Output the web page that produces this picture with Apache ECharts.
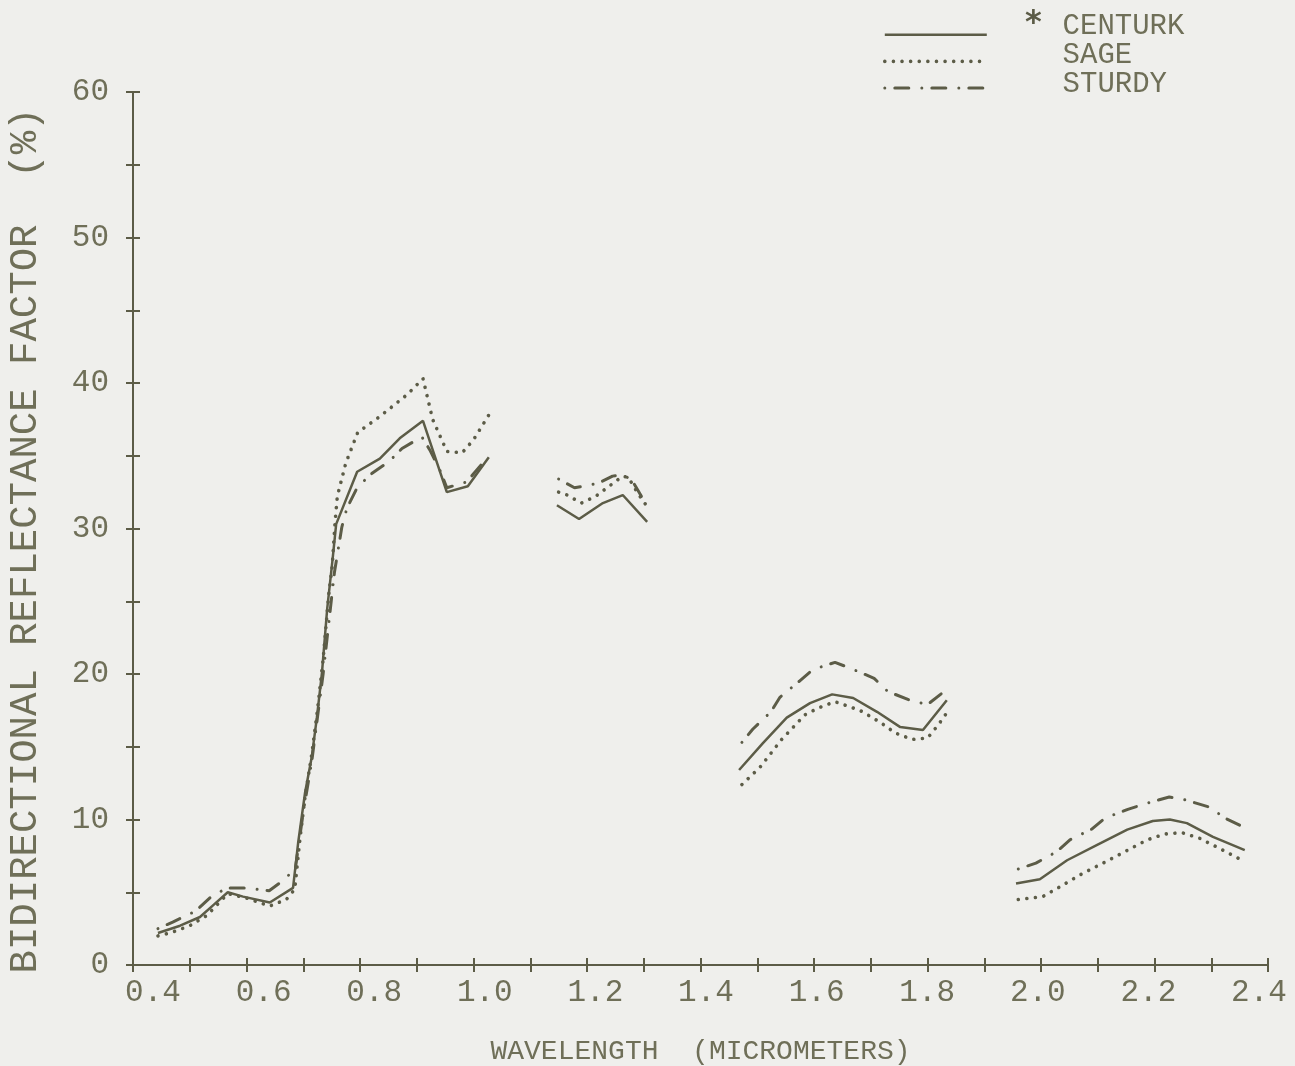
<!DOCTYPE html>
<html>
<head>
<meta charset="utf-8">
<title>Bidirectional reflectance factor</title>
<script src="https://cdn.jsdelivr.net/npm/echarts@6/dist/echarts.min.js"></script>
<style>
  html, body { margin: 0; padding: 0; background: #efefec; }
  #chart { width: 1295px; height: 1066px; }
</style>
</head>
<body>
<div id="chart"></div>
<script>
// Spectral reflectance of three wheat cultivars; each cultivar is split into
// segments where the water absorption bands are left out.
const cultivars = ['CENTURK', 'SAGE', 'STURDY'];

const centurkSegments = [
  [[0.444, 2.2], [0.483, 2.7], [0.518, 3.3], [0.541, 4.1], [0.567, 5.0], [0.594, 4.7],
   [0.641, 4.3], [0.682, 5.3], [0.691, 8.4], [0.703, 11.8], [0.715, 14.3], [0.724, 17.0],
   [0.733, 20.1], [0.742, 24.4], [0.752, 28.0], [0.758, 30.3], [0.795, 33.9], [0.835, 34.8],
   [0.870, 36.2], [0.911, 37.4], [0.953, 32.5], [0.990, 32.9], [1.027, 34.9]],
  [[1.147, 31.6], [1.186, 30.65], [1.228, 31.75], [1.263, 32.3], [1.306, 30.45]],
  [[1.468, 13.4], [1.510, 15.25], [1.552, 17.0], [1.593, 18.0], [1.632, 18.6], [1.669, 18.35],
   [1.711, 17.4], [1.752, 16.35], [1.792, 16.15], [1.834, 18.2]],
  [[1.956, 5.6], [1.998, 5.9], [2.046, 7.2], [2.099, 8.25], [2.152, 9.3], [2.197, 9.9],
   [2.227, 10.0], [2.257, 9.75], [2.303, 8.8], [2.359, 7.9]]
];

const sageSegments = [
  [[0.444, 2.0], [0.465, 2.2], [0.500, 2.7], [0.530, 3.4], [0.567, 4.9], [0.600, 4.6],
   [0.641, 4.05], [0.670, 4.5], [0.685, 5.2], [0.694, 8.6], [0.703, 11.5], [0.715, 14.5],
   [0.725, 17.5], [0.735, 21.0], [0.745, 25.5], [0.751, 27.4], [0.756, 30.4], [0.760, 32.2],
   [0.775, 34.5], [0.796, 36.6], [0.835, 37.7], [0.883, 39.2], [0.911, 40.3], [0.928, 37.5],
   [0.953, 35.3], [0.980, 35.2], [1.000, 36.1], [1.027, 37.8]],
  [[1.150, 32.5], [1.165, 32.3], [1.190, 31.75], [1.215, 32.2], [1.237, 32.85], [1.263, 33.6],
   [1.273, 33.5], [1.290, 32.4], [1.306, 31.5]],
  [[1.473, 12.4], [1.505, 13.6], [1.543, 15.5], [1.584, 17.2], [1.610, 17.7], [1.637, 18.1],
   [1.681, 17.5], [1.716, 16.7], [1.743, 15.95], [1.773, 15.5], [1.800, 15.6], [1.819, 16.5],
   [1.836, 17.45]],
  [[1.960, 4.5], [2.003, 4.7], [2.030, 5.3], [2.069, 6.2], [2.109, 7.0], [2.148, 7.8],
   [2.187, 8.6], [2.218, 9.0], [2.248, 9.1], [2.280, 8.7], [2.315, 8.0], [2.354, 7.2]]
];

const sturdySegments = [
  [[0.444, 2.5], [0.470, 2.95], [0.510, 3.7], [0.535, 4.6], [0.565, 5.3], [0.597, 5.3],
   [0.640, 5.1], [0.664, 5.8], [0.686, 6.6], [0.700, 10.5], [0.715, 14.0], [0.725, 17.0],
   [0.735, 20.0], [0.745, 23.5], [0.755, 27.0], [0.768, 30.1], [0.777, 31.4], [0.795, 32.8],
   [0.818, 33.7], [0.851, 34.6], [0.874, 35.5], [0.909, 36.3], [0.923, 35.4], [0.941, 34.0],
   [0.953, 32.8], [0.988, 33.2], [1.027, 35.0]],
  [[1.150, 33.4], [1.178, 32.8], [1.219, 33.1], [1.245, 33.6], [1.265, 33.7], [1.281, 33.2],
   [1.296, 32.2], [1.308, 31.6]],
  [[1.473, 15.3], [1.492, 16.2], [1.524, 17.4], [1.540, 18.4], [1.574, 19.5], [1.598, 20.3],
   [1.637, 20.8], [1.667, 20.35], [1.706, 19.7], [1.730, 18.8], [1.769, 18.2], [1.800, 17.9],
   [1.836, 19.0]],
  [[1.960, 6.6], [1.991, 7.0], [2.028, 7.8], [2.051, 8.6], [2.090, 9.35], [2.113, 10.1],
   [2.153, 10.7], [2.185, 11.1], [2.226, 11.55], [2.254, 11.35], [2.297, 10.85], [2.324, 10.1],
   [2.361, 9.4]]
];

const xTickLabels = [0.4, 0.6, 0.8, 1.0, 1.2, 1.4, 1.6, 1.8, 2.0, 2.2, 2.4];
const yTickLabels = [0, 10, 20, 30, 40, 50, 60];

const INK = '#5c5c47';
const TEXT = '#6f6f58';
const FONT = '"Liberation Mono", "DejaVu Sans Mono", monospace';

const lineStyles = {
  CENTURK: { color: INK, width: 2.5, type: 'solid' },
  SAGE: { color: INK, width: 3.6, type: [0.01, 8.6], cap: 'round' },
  STURDY: { color: INK, width: 3, type: [0.01, 10, 14, 13], cap: 'round' }
};

const segmentsByName = { CENTURK: centurkSegments, SAGE: sageSegments, STURDY: sturdySegments };

const series = [];
cultivars.forEach(name => {
  segmentsByName[name].forEach(seg => {
    series.push({
      name: name,
      type: 'line',
      xAxisIndex: 0,
      yAxisIndex: 0,
      data: seg,
      symbol: 'none',
      silent: true,
      lineStyle: lineStyles[name],
      itemStyle: { color: INK }
    });
  });
});

const axisLineStyle = { color: INK, width: 2 };

const chart = echarts.init(document.getElementById('chart'), null, { renderer: 'canvas' });
chart.setOption({
  backgroundColor: '#efefec',
  animation: false,
  grid: [
    { left: 133, right: 27, top: 92, bottom: 101, containLabel: false, outerBoundsMode: 'none' },
    { left: 153, right: 36, top: 92, bottom: 101, containLabel: false, outerBoundsMode: 'none' }
  ],
  legend: [
    // line samples
    {
      data: cultivars.map(name => ({ name: name, lineStyle: lineStyles[name] })),
      orient: 'vertical',
      left: 878,
      top: 19,
      itemWidth: 102,
      itemHeight: 27,
      itemGap: 5,
      selectedMode: false,
      itemStyle: { opacity: 0, color: 'transparent', borderColor: 'transparent' },
      textStyle: { fontSize: 8, lineHeight: 8, color: 'transparent' }
    },
    // cultivar names
    {
      data: cultivars,
      orient: 'vertical',
      left: 1041,
      top: 7,
      itemWidth: 0,
      itemHeight: 29,
      itemGap: 0,
      selectedMode: false,
      itemStyle: { opacity: 0, color: 'transparent', borderColor: 'transparent' },
      lineStyle: { opacity: 0, color: 'transparent' },
      textStyle: { fontFamily: FONT, fontSize: 29, lineHeight: 29, color: TEXT }
    }
  ],
  graphic: [
    { type: 'text', left: 1025, top: 8, style: { text: '*', font: 'bold 32px "DejaVu Sans"', fill: INK } }
  ],
  xAxis: [
    {
      gridIndex: 0, type: 'value', min: 0.4, max: 2.4, interval: 0.1, position: 'bottom',
      axisLine: { lineStyle: axisLineStyle },
      axisTick: { show: true, inside: false, length: 7, lineStyle: axisLineStyle },
      axisLabel: { show: false },
      splitLine: { show: false },
      name: 'WAVELENGTH  (MICROMETERS)',
      nameLocation: 'middle',
      nameGap: 73,
      nameTextStyle: { fontFamily: FONT, fontSize: 28, color: TEXT }
    },
    {
      gridIndex: 0, type: 'value', min: 0.4, max: 2.4, interval: 0.1, position: 'bottom',
      axisLine: { show: false },
      axisTick: { show: true, inside: true, length: 7, lineStyle: axisLineStyle },
      axisLabel: { show: false },
      splitLine: { show: false }
    },
    {
      gridIndex: 1, type: 'value', min: 0.4, max: 2.4, interval: 0.2, position: 'bottom',
      axisLine: { show: false },
      axisTick: { show: false },
      splitLine: { show: false },
      axisLabel: {
        margin: 12, fontFamily: FONT, fontSize: 31, color: TEXT,
        formatter: v => {
          const hit = xTickLabels.find(t => Math.abs(t - v) < 1e-6);
          return hit === undefined ? '' : hit.toFixed(1);
        }
      }
    }
  ],
  yAxis: [
    {
      gridIndex: 0, type: 'value', min: 0, max: 60, interval: 5, position: 'left',
      axisLine: { show: true, lineStyle: axisLineStyle },
      axisTick: { show: true, inside: false, length: 7, lineStyle: axisLineStyle },
      splitLine: { show: false },
      axisLabel: {
        margin: 24, fontFamily: FONT, fontSize: 31, color: TEXT,
        formatter: v => (yTickLabels.indexOf(v) >= 0 ? String(v) : '')
      },
      name: 'BIDIRECTIONAL REFLECTANCE FACTOR  (%)',
      nameLocation: 'middle',
      nameRotate: 90,
      nameGap: 88,
      nameTextStyle: { fontFamily: FONT, fontSize: 39, color: TEXT, padding: [0, 24, 0, 0] }
    },
    {
      gridIndex: 0, type: 'value', min: 0, max: 60, interval: 5, position: 'left',
      axisLine: { show: false },
      axisTick: { show: true, inside: true, length: 7, lineStyle: axisLineStyle },
      axisLabel: { show: false },
      splitLine: { show: false }
    },
    {
      gridIndex: 1, type: 'value', min: 0, max: 60, show: false
    }
  ],
  series: series
});
</script>
</body>
</html>
